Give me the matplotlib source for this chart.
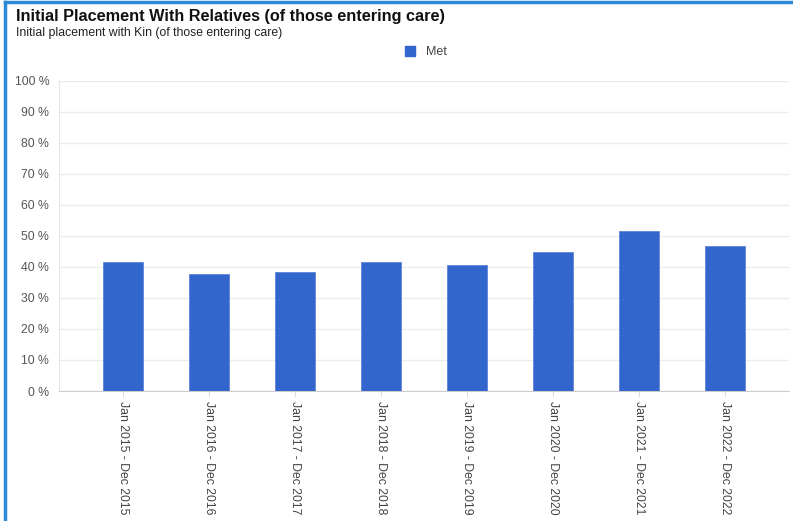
import matplotlib.pyplot as plt
from matplotlib.lines import Line2D

plt.rcParams['font.family'] = ['Liberation Sans', 'DejaVu Sans']

periods = ["Jan 2015 - Dec 2015", "Jan 2016 - Dec 2016", "Jan 2017 - Dec 2017",
           "Jan 2018 - Dec 2018", "Jan 2019 - Dec 2019", "Jan 2020 - Dec 2020",
           "Jan 2021 - Dec 2021", "Jan 2022 - Dec 2022"]
met = [41.7, 37.7, 38.4, 41.5, 40.6, 44.7, 51.6, 46.7]
yticks = list(range(0, 101, 10))

W, H = 793, 521
fig = plt.figure(figsize=(W / 100, H / 100), dpi=100)
ax = fig.add_axes([59 / W, (H - 391) / H, (789 - 59) / W, (391 - 80.5) / H])

x = range(len(periods))
ax.bar(x, met, width=0.47, color='#3366cc', zorder=3, edgecolor='#5f86d6', linewidth=0.6)

ax.set_ylim(0, 100)
ax.set_xlim(-0.745, 7.745)
ax.set_yticks(yticks)
ax.set_yticklabels([f"{v} %" for v in yticks], color='#555555', fontsize=8.8)
ax.set_xticks(list(x))
ax.set_xticklabels(periods, rotation=270, color='#444444', fontsize=8.8)
ax.tick_params(axis='y', length=0, pad=7)
ax.tick_params(axis='x', length=4, color='#dddddd', pad=3)
ax.grid(axis='y', color='#ebebeb', linewidth=1, zorder=0)
for s in ['top', 'right']:
    ax.spines[s].set_visible(False)
ax.spines['left'].set_color('#e6e6e6')
ax.spines['bottom'].set_color('#cccccc')

fig.text(16 / W, 1 - 17 / H, "Initial Placement With Relatives (of those entering care)",
         fontsize=11.7, fontweight='bold', va='center', ha='left', color='#111111')
fig.text(16 / W, 1 - 33 / H, "Initial placement with Kin (of those entering care)",
         fontsize=8.8, va='center', ha='left', color='#222222')

handle = Line2D([], [], marker='s', linestyle='none', markersize=7,
                markerfacecolor='#3366cc', markeredgecolor='#3366cc')
fig.legend([handle], ["Met"], loc='center', bbox_to_anchor=(422 / W, 1 - 52 / H),
           frameon=False, fontsize=9, handletextpad=0.3, labelcolor='#444444')

# blue frame on top and left
fig.add_artist(Line2D([5 / W, 1], [1 - 2 / H, 1 - 2 / H], color='#2b8ad8', linewidth=2.5))
fig.add_artist(Line2D([5 / W, 5 / W], [0, 1 - 2 / H], color='#2b8ad8', linewidth=2.5))

fig.savefig("out.png", dpi=100)
